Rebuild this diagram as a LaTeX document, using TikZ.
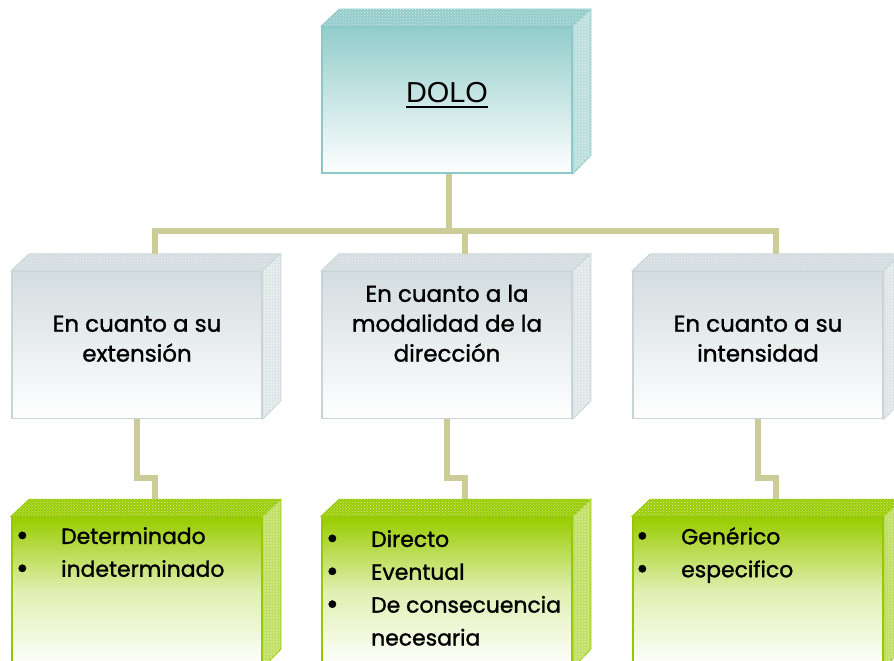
\documentclass[tikz,border=0pt]{standalone}
\usepackage{fontspec}
\setmainfont{Poppins}[FakeBold=1.3]
\newfontfamily\titlefont{Liberation Sans}
\usetikzlibrary{patterns}
\definecolor{agua}{RGB}{146,205,203}
\definecolor{aguaborde}{RGB}{140,200,200}
\definecolor{gris}{RGB}{211,221,223}
\definecolor{grisborde}{RGB}{200,212,215}
\definecolor{verde}{RGB}{153,204,0}
\definecolor{verdeborde}{RGB}{150,200,0}
\definecolor{caqui}{RGB}{204,204,153}

\tikzset{
  cara/.style={minimum width=250bp, inner sep=0pt, line width=1.5bp},
  linea/.style={draw=caqui, line width=6bp},
  titulo/.style={inner sep=0pt, align=center, font=\fontsize{23}{30}\selectfont},
  lista/.style={inner sep=0pt, align=left, anchor=north west, font=\fontsize{22}{33}\selectfont}
}

% caja 3D: nombre, x, y, alto, color, borde, color medio
\newcommand{\caja}[7]{%
  \node[cara, minimum height=#4bp, draw=#6, top color=#5, bottom color=white, middle color=#7] (#1) at (#2,#3) {};
  \filldraw[draw=#6, fill=#5, line width=1bp, postaction={pattern=crosshatch dots, pattern color=white!70!#6}]
    (#1.north west) -- ++(18,-17) -- ++(250,0) -- (#1.north east) -- cycle;
  \filldraw[draw=#6, fill=#5!50!white, line width=1bp, postaction={pattern=grid, pattern color=white!40!#6}]
    (#1.north east) -- ++(18,-17) -- ++(0,#4) -- (#1.south east) -- cycle;
  \coordinate (#1-back) at ([shift={(18,-17)}]#1.north);
}
\newcommand{\vin}[1]{\makebox[45bp][l]{\raisebox{-1.5bp}{\fontsize{30}{30}\selectfont\textbullet}}#1}

\begin{document}
\begin{tikzpicture}[x=1bp,y=-1bp]
\useasboundingbox (0,0) rectangle (894,661);
\clip (0,0) rectangle (894,661);

% cajas
\caja{dolo}{447}{100}{146}{agua}{aguaborde}{agua!50!white}
\foreach \n/\x in {ext/137, dir/447, int/758}{
  \caja{\n}{\x}{345}{147}{gris}{grisborde}{gris!50!white}
  \caja{\n2}{\x}{592}{150}{verde}{verdeborde}{verde!30!white}
}

% lineas
\draw[linea] ([xshift=2bp]dolo.south) -- ++(0,59);
\draw[linea] (ext-back) -- ++(0,-23) -| (int-back);
\draw[linea] (dir-back) -- ++(0,-23);
\foreach \n in {ext, dir, int}
  \draw[linea] (\n.south) -- ++(0,59) -| (\n2-back);

% textos
\node[font=\titlefont\fontsize{29}{30}\selectfont, inner sep=0pt, anchor=base] (dolo-t) at (447,103) {DOLO};
\draw[line width=2bp] ([yshift=-4bp]dolo-t.base west) -- ([yshift=-4bp]dolo-t.base east);

\node[titulo, anchor=south] (ext-t) at (137,362) {En cuanto a su\\extensión};
\node[titulo, anchor=south] (dir-t) at (447,362) {En cuanto a la\\modalidad de la\\dirección};
\node[titulo, anchor=south] (int-t) at (758,362) {En cuanto a su\\intensidad};

\node[lista] (ext2-t) at (16,527) {\vin{Determinado}\\\vin{indeterminado}};
\node[lista] (dir2-t) at (326,530) {\vin{Directo}\\\vin{Eventual}\\\vin{De consecuencia}\\\hspace*{45bp}necesaria};
\node[lista] (int2-t) at (636,527) {\vin{Genérico}\\\vin{especifico}};
\end{tikzpicture}
\end{document}
